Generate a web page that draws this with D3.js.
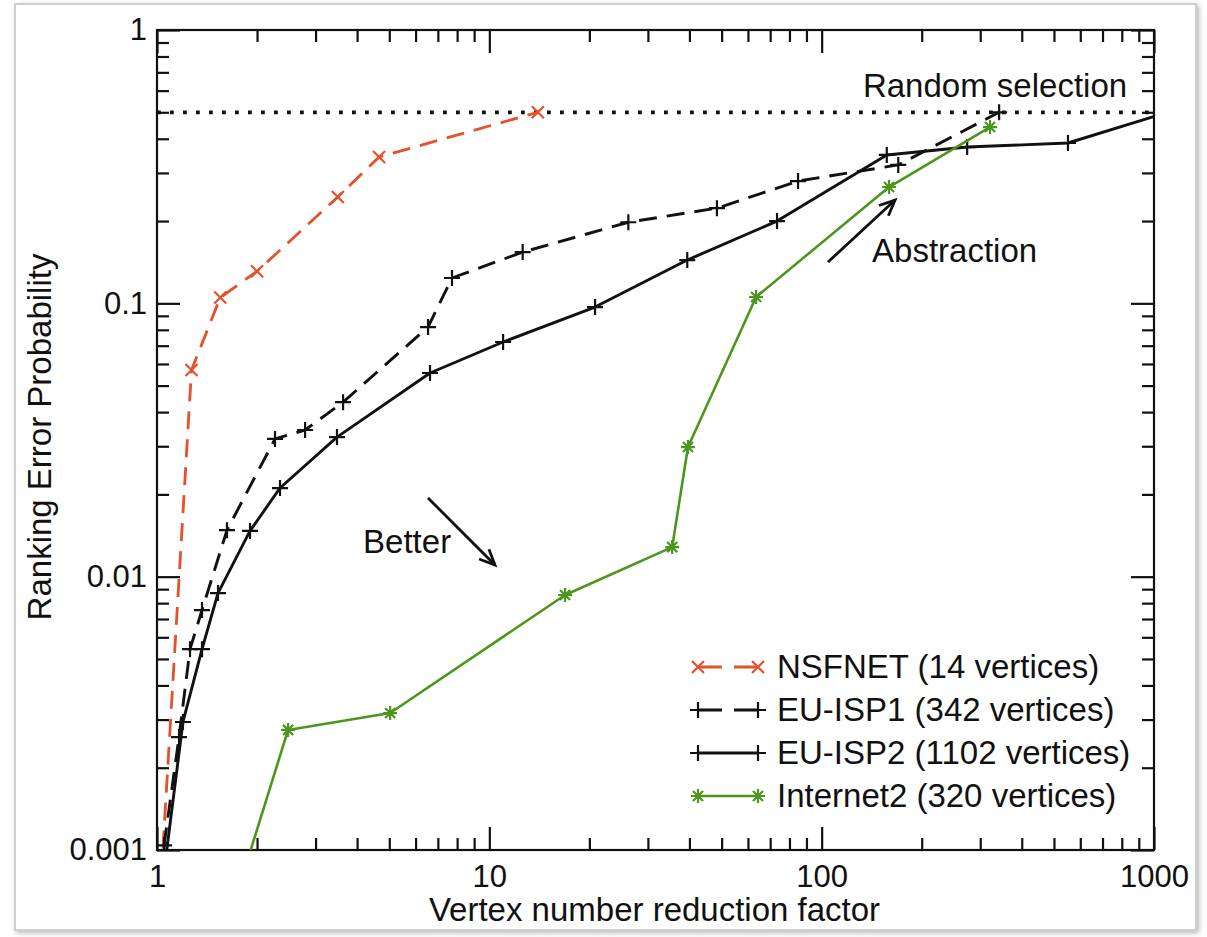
<!DOCTYPE html>
<html>
<head>
<meta charset="utf-8">
<script src="https://cdn.jsdelivr.net/npm/d3@7"></script>
<style>
  html, body { margin: 0; padding: 0; background: #ffffff; }
  svg { display: block; }
  text { font-family: "Liberation Sans", Arial, Helvetica, sans-serif; fill: #111; }
</style>
</head>
<body>
<svg id="chart" width="1207" height="937"></svg>
<script>
// ---------------- data ----------------
const xTickLabels = ["1", "10", "100", "1000"];
const yTickLabels = ["0.001", "0.01", "0.1", "1"];
const xMajor = [1, 10, 100, 1000];
const yMajor = [0.001, 0.01, 0.1, 1];

const seriesNames = ["NSFNET (14 vertices)", "EU-ISP1 (342 vertices)", "EU-ISP2 (1102 vertices)", "Internet2 (320 vertices)"];

const nsfnetX = [1.03, 1.27, 1.55, 2.0, 3.5, 4.66, 14];
const nsfnetY = [0.0008, 0.057, 0.105, 0.131, 0.245, 0.343, 0.5];

const euisp1X = [1.05, 1.165, 1.257, 1.366, 1.624, 2.265, 2.79, 3.63, 6.54, 7.72, 12.6, 26.2, 48.4, 84.9, 170, 342];
const euisp1Y = [0.00104, 0.00259, 0.00543, 0.00755, 0.0148, 0.0319, 0.0344, 0.0435, 0.0819, 0.1238, 0.154, 0.198, 0.223, 0.280, 0.321, 0.5];

const euisp2X = [1.07, 1.197, 1.366, 1.526, 1.905, 2.345, 3.48, 6.63, 11.0, 20.8, 39.4, 73.4, 157, 274, 551, 1102];
const euisp2Y = [0.001, 0.00294, 0.00543, 0.00871, 0.0147, 0.0211, 0.0324, 0.0556, 0.0722, 0.0969, 0.144, 0.2, 0.349, 0.373, 0.386, 0.5];

const internet2X = [1.79, 2.48, 5.03, 16.9, 35.5, 39.6, 63.5, 159.5, 321];
const internet2Y = [0.00077, 0.00275, 0.00317, 0.00857, 0.01283, 0.0298, 0.1055, 0.2664, 0.4416];

const randomLevel = 0.5;

// annotations (data coordinates)
const betterArrow = [[6.54, 0.0194], [10.4, 0.01103]];
const betterLabel = [4.17, 0.0122];
const abstractionArrow = [[104.5, 0.1416], [166.3, 0.2387]];
const abstractionLabel = [141.8, 0.1416];
const randomLabel = [830, 0.5687];

// ---------------- layout ----------------
const svg = d3.select("#chart");
const L = 157, R = 1154, T = 30, B = 850;
const x = d3.scaleLog().domain([1, 1000]).range([L, R]);
const y = d3.scaleLog().domain([0.001, 1]).range([B, T]);

const ORANGE = "#e5512a", GREEN = "#4c961d", BLACK = "#111";
const FS = "33px";

// outer frame with shadow
const defs = svg.append("defs");
const f = defs.append("filter").attr("id", "sh").attr("x", "-5%").attr("y", "-5%").attr("width", "110%").attr("height", "110%");
f.append("feDropShadow").attr("dx", 2).attr("dy", 2).attr("stdDeviation", 2.5).attr("flood-color", "#888").attr("flood-opacity", 0.6);
svg.append("rect").attr("x", 15).attr("y", 4).attr("width", 1181).attr("height", 926)
  .attr("fill", "#fff").attr("stroke", "#cfcfcf").attr("stroke-width", 2).attr("filter", "url(#sh)");

defs.append("clipPath").attr("id", "clip").append("rect")
  .attr("x", L).attr("y", T).attr("width", R - L).attr("height", B - T);

// ---------------- axes ----------------
function minors(lo, hi) {
  const out = [];
  for (let d = lo; d < hi; d *= 10) for (let k = 2; k <= 9; k++) out.push(d * k);
  return out;
}
const xMinor = minors(1, 1000);
const yMinor = minors(0.001, 1);
const MAJ = 23, MIN = 12;

function styleAxis(g) {
  g.select(".domain").remove();
  g.selectAll("line").attr("stroke", BLACK).attr("stroke-width", 2.2);
  g.selectAll("text").style("font-size", "31px").attr("fill", "#111");
}

// bottom
svg.append("g").attr("transform", `translate(0,${B})`)
  .call(d3.axisBottom(x).tickValues(xMinor).tickSize(-MIN).tickFormat(""))
  .call(styleAxis);
svg.append("g").attr("transform", `translate(0,${B})`)
  .call(d3.axisBottom(x).tickValues(xMajor).tickSize(-MAJ).tickPadding(15)
    .tickFormat((d, i) => xTickLabels[i]))
  .call(styleAxis)
  .call(g => g.selectAll("text").attr("y", 15));
// top
svg.append("g").attr("transform", `translate(0,${T})`)
  .call(d3.axisTop(x).tickValues(xMinor).tickSize(-MIN).tickFormat(""))
  .call(styleAxis);
svg.append("g").attr("transform", `translate(0,${T})`)
  .call(d3.axisTop(x).tickValues(xMajor).tickSize(-MAJ).tickFormat(""))
  .call(styleAxis);
// left
svg.append("g").attr("transform", `translate(${L},0)`)
  .call(d3.axisLeft(y).tickValues(yMinor).tickSize(-MIN).tickFormat(""))
  .call(styleAxis);
svg.append("g").attr("transform", `translate(${L},0)`)
  .call(d3.axisLeft(y).tickValues(yMajor).tickSize(-MAJ).tickPadding(10)
    .tickFormat((d, i) => yTickLabels[i]))
  .call(styleAxis)
  .call(g => g.selectAll("text").attr("x", -10));
// right
svg.append("g").attr("transform", `translate(${R},0)`)
  .call(d3.axisRight(y).tickValues(yMinor).tickSize(-MIN).tickFormat(""))
  .call(styleAxis);
svg.append("g").attr("transform", `translate(${R},0)`)
  .call(d3.axisRight(y).tickValues(yMajor).tickSize(-MAJ).tickFormat(""))
  .call(styleAxis);

// box
svg.append("rect").attr("x", L).attr("y", T).attr("width", R - L).attr("height", B - T)
  .attr("fill", "none").attr("stroke", BLACK).attr("stroke-width", 2.2);

// axis titles
svg.append("text").attr("x", (L + R) / 2 - 1).attr("y", 921).attr("text-anchor", "middle")
  .style("font-size", FS).text("Vertex number reduction factor");
svg.append("text").attr("transform", `translate(51,${437}) rotate(-90)`).attr("text-anchor", "middle")
  .style("font-size", FS).text("Ranking Error Probability");

// ---------------- marks ----------------
const plot = svg.append("g").attr("clip-path", "url(#clip)");

// random selection dotted line
plot.append("line").attr("x1", x(1)).attr("x2", x(1000)).attr("y1", y(randomLevel)).attr("y2", y(randomLevel))
  .attr("stroke", BLACK).attr("stroke-width", 3.8).attr("stroke-dasharray", "3.8,9.2");

const markerPaths = {
  plus: s => `M${-s},0H${s}M0,${-s}V${s}`,
  cross: s => `M${-s},${-s}L${s},${s}M${-s},${s}L${s},${-s}`,
  star: s => {
    const d = s * 0.72;
    return `M0,${-s}V${s}M${-s},0H${s}M${-d},${-d}L${d},${d}M${-d},${d}L${d},${-d}`;
  }
};

const series = [
  { name: seriesNames[0], xs: nsfnetX, ys: nsfnetY, color: ORANGE, dash: "18,10", w: 2.8, marker: "cross", ms: 6 },
  { name: seriesNames[1], xs: euisp1X, ys: euisp1Y, color: BLACK, dash: "18,10", w: 2.9, marker: "plus", ms: 8 },
  { name: seriesNames[2], xs: euisp2X, ys: euisp2Y, color: BLACK, dash: null, w: 2.9, marker: "plus", ms: 8 },
  { name: seriesNames[3], xs: internet2X, ys: internet2Y, color: GREEN, dash: null, w: 2.6, marker: "star", ms: 7 }
];

const line = d3.line().x(d => x(d[0])).y(d => y(d[1]));

series.forEach(s => {
  const pts = s.xs.map((v, i) => [v, s.ys[i]]);
  plot.append("path").datum(pts).attr("d", line).attr("fill", "none")
    .attr("stroke", s.color).attr("stroke-width", s.w)
    .attr("stroke-dasharray", s.dash).attr("stroke-linejoin", "round");
  plot.selectAll(null).data(pts).enter().append("path")
    .attr("transform", d => `translate(${x(d[0])},${y(d[1])})`)
    .attr("d", markerPaths[s.marker](s.ms))
    .attr("stroke", s.color).attr("stroke-width", 2.2).attr("fill", "none");
});

// ---------------- annotations ----------------
function arrow(p0, p1) {
  const x0 = x(p0[0]), y0 = y(p0[1]), x1 = x(p1[0]), y1 = y(p1[1]);
  const g = svg.append("g");
  g.append("line").attr("x1", x0).attr("y1", y0).attr("x2", x1).attr("y2", y1)
    .attr("stroke", BLACK).attr("stroke-width", 2.8);
  const a = Math.atan2(y1 - y0, x1 - x0), len = 17, sp = 0.42;
  const h = [[x1 - len * Math.cos(a - sp), y1 - len * Math.sin(a - sp)], [x1, y1],
             [x1 - len * Math.cos(a + sp), y1 - len * Math.sin(a + sp)]];
  g.append("path").attr("d", d3.line()(h)).attr("fill", "none")
    .attr("stroke", BLACK).attr("stroke-width", 2.8).attr("stroke-linejoin", "miter");
}
arrow(betterArrow[0], betterArrow[1]);
arrow(abstractionArrow[0], abstractionArrow[1]);

svg.append("text").attr("x", x(betterLabel[0])).attr("y", y(betterLabel[1]))
  .style("font-size", FS).text("Better");
svg.append("text").attr("x", x(abstractionLabel[0])).attr("y", y(abstractionLabel[1]))
  .style("font-size", FS).text("Abstraction");
svg.append("text").attr("x", x(randomLabel[0])).attr("y", y(randomLabel[1])).attr("text-anchor", "end")
  .style("font-size", FS).text("Random selection");

// ---------------- legend ----------------
const legend = svg.append("g").attr("transform", "translate(698,667)");
series.forEach((s, i) => {
  const g = legend.append("g").attr("transform", `translate(0,${i * 43})`);
  g.append("line").attr("x1", 0).attr("x2", 60).attr("y1", 0).attr("y2", 0)
    .attr("stroke", s.color).attr("stroke-width", s.w)
    .attr("stroke-dasharray", s.dash ? "24,12" : null);
  [0, 60].forEach(px => g.append("path").attr("transform", `translate(${px},0)`)
    .attr("d", markerPaths[s.marker](s.ms)).attr("stroke", s.color)
    .attr("stroke-width", 2.2).attr("fill", "none"));
  g.append("text").attr("x", 79).attr("y", 11).style("font-size", FS).text(s.name);
});
</script>
</body>
</html>
